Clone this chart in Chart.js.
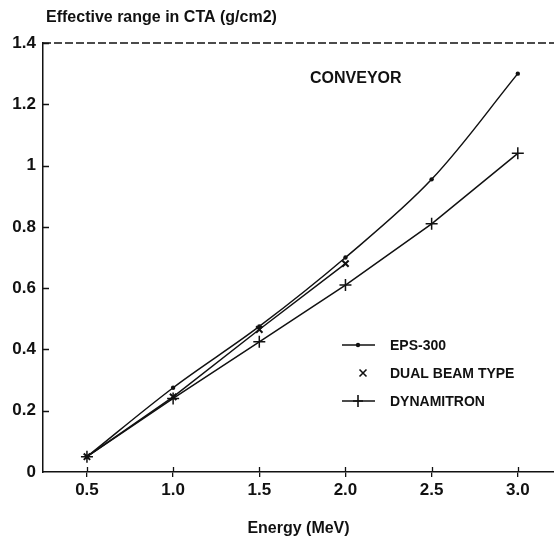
<!DOCTYPE html>
<html>
<head>
<meta charset="utf-8">
<script src="https://cdn.jsdelivr.net/npm/chart.js@4.4.1/dist/chart.umd.min.js"></script>
<style>
  html, body { margin: 0; padding: 0; background: #fff; }
</style>
</head>
<body>
<canvas id="myChart" width="554" height="540"></canvas>
<script>
// values
const energies = [0.5, 1.0, 1.5, 2.0, 2.5, 3.0];
const dualEnergies = [0.5, 1.0, 1.5, 2.0];
const eps300 = [0.05, 0.275, 0.475, 0.70, 0.955, 1.30];
const dualBeam = [0.05, 0.245, 0.465, 0.68];
const dynamitron = [0.05, 0.24, 0.425, 0.61, 0.81, 1.04];
const xTicks = [0.5, 1.0, 1.5, 2.0, 2.5, 3.0];
const yTicks = [0, 0.2, 0.4, 0.6, 0.8, 1, 1.2, 1.4];
const seriesNames = ['EPS-300', 'DUAL BEAM TYPE', 'DYNAMITRON'];
const chartTitle = 'Effective range in CTA (g/cm2)';
const xTitle = 'Energy (MeV)';
const note = 'CONVEYOR';

const ink = '#111';
const fontFamily = '"Liberation Sans", Arial, sans-serif';

function toPoints(xs, ys) {
    return xs.map((x, i) => ({ x: x, y: ys[i] }));
}

function drawMarker(ctx, style, x, y) {
    ctx.save();
    ctx.strokeStyle = ink;
    ctx.fillStyle = ink;
    ctx.lineWidth = 1.6;
    ctx.setLineDash([]);
    ctx.beginPath();
    if (style === 'dot') {
        ctx.arc(x, y, 2.2, 0, Math.PI * 2);
        ctx.fill();
    } else if (style === 'crossRot') {
        ctx.moveTo(x - 3.5, y - 3.5); ctx.lineTo(x + 3.5, y + 3.5);
        ctx.moveTo(x + 3.5, y - 3.5); ctx.lineTo(x - 3.5, y + 3.5);
        ctx.stroke();
    } else {
        ctx.moveTo(x - 5, y); ctx.lineTo(x + 5, y);
        ctx.moveTo(x, y - 6); ctx.lineTo(x, y + 6);
        ctx.stroke();
    }
    ctx.restore();
}

const decor = {
    id: 'decor',
    afterDraw(chart) {
        const ctx = chart.ctx;
        const { left, right, top, bottom } = chart.chartArea;
        const xs = chart.scales.x;
        const ys = chart.scales.y;
        ctx.save();
        ctx.strokeStyle = ink;

        // dashed top frame
        ctx.lineWidth = 1.5;
        ctx.setLineDash([8, 3]);
        ctx.beginPath();
        ctx.moveTo(left, top);
        ctx.lineTo(right, top);
        ctx.stroke();
        ctx.setLineDash([]);

        // small inner ticks
        ctx.lineWidth = 1.3;
        ctx.beginPath();
        yTicks.forEach((v) => {
            if (v === 0) return;
            const py = Math.round(ys.getPixelForValue(v)) + 0.5;
            ctx.moveTo(left, py);
            ctx.lineTo(left + 6, py);
        });
        xTicks.forEach((v) => {
            const px = Math.round(xs.getPixelForValue(v)) + 0.5;
            ctx.moveTo(px, bottom);
            ctx.lineTo(px, bottom - 5);
        });
        ctx.stroke();

        // texts
        ctx.fillStyle = ink;
        ctx.textBaseline = 'middle';
        ctx.textAlign = 'left';
        ctx.font = 'bold 16px ' + fontFamily;
        ctx.fillText(chartTitle, 46, 18);

        ctx.textAlign = 'center';
        ctx.font = 'bold 16px ' + fontFamily;
        ctx.fillText(note, xs.getPixelForValue(2.06), ys.getPixelForValue(1.285));

        // legend
        const styles = ['dot', 'crossRot', 'cross'];
        const withLine = [true, false, true];
        ctx.textAlign = 'left';
        ctx.font = 'bold 14px ' + fontFamily;
        seriesNames.forEach((name, i) => {
            const ly = 345 + i * 28;
            if (withLine[i]) {
                ctx.lineWidth = 1.4;
                ctx.beginPath();
                ctx.moveTo(342, ly);
                ctx.lineTo(375, ly);
                ctx.stroke();
            }
            drawMarker(ctx, styles[i], withLine[i] ? 358 : 363, ly);
            ctx.fillText(name, 390, ly + 1);
        });
        ctx.restore();
    },
};

Chart.defaults.font.family = fontFamily;
Chart.defaults.color = ink;

const ctx = document.getElementById('myChart').getContext('2d');
const myChart = new Chart(ctx, {
    type: 'scatter',
    data: {
        datasets: [
            {
                label: seriesNames[0],
                data: toPoints(energies, eps300),
                showLine: true,
                tension: 0.35,
                borderColor: ink,
                backgroundColor: ink,
                borderWidth: 1.5,
                pointStyle: 'circle',
                pointRadius: 2.2,
                pointBorderWidth: 0,
            },
            {
                label: seriesNames[1],
                data: toPoints(dualEnergies, dualBeam),
                showLine: true,
                tension: 0,
                borderColor: ink,
                backgroundColor: ink,
                borderWidth: 1.5,
                pointStyle: 'crossRot',
                pointRadius: 4.5,
                pointBorderWidth: 2,
            },
            {
                label: seriesNames[2],
                data: toPoints(energies, dynamitron),
                showLine: true,
                tension: 0,
                borderColor: ink,
                backgroundColor: ink,
                borderWidth: 1.5,
                pointStyle: 'cross',
                pointRadius: 6,
                pointBorderWidth: 1.5,
            },
        ],
    },
    options: {
        responsive: false,
        animation: false,
        devicePixelRatio: 1,
        layout: { autoPadding: false, padding: { top: 43, left: 0, right: 0, bottom: 0 } },
        scales: {
            x: {
                type: 'linear',
                min: 0.245,
                max: 3.21,
                afterBuildTicks: (scale) => {
                    scale.ticks = xTicks.map((v) => ({ value: v }));
                },
                afterFit: (scale) => {
                    scale.height = 68;
                    scale.paddingLeft = 0;
                    scale.paddingRight = 0;
                },
                ticks: {
                    autoSkip: false,
                    maxRotation: 0,
                    padding: 3,
                    font: { size: 17, weight: 'bold' },
                    callback: (value) => Number(value).toFixed(1),
                },
                grid: {
                    drawOnChartArea: false,
                    drawTicks: true,
                    tickLength: 5,
                    color: ink,
                    lineWidth: 1.3,
                },
                border: { color: ink, width: 1.6 },
                title: {
                    display: true,
                    text: xTitle,
                    font: { size: 16, weight: 'bold' },
                    padding: { top: 0, bottom: 2 },
                },
            },
            y: {
                type: 'linear',
                min: 0,
                max: 1.4,
                afterBuildTicks: (scale) => {
                    scale.ticks = yTicks.map((v) => ({ value: v }));
                },
                afterFit: (scale) => {
                    scale.width = 43;
                },
                ticks: {
                    padding: 7,
                    font: { size: 17, weight: 'bold' },
                    callback: (value) => String(value),
                },
                grid: { drawOnChartArea: false, drawTicks: false },
                border: { color: ink, width: 1.5, dash: [3, 2] },
            },
        },
        plugins: {
            legend: { display: false },
            tooltip: { enabled: false },
        },
    },
    plugins: [decor],
});
</script>
</body>
</html>
